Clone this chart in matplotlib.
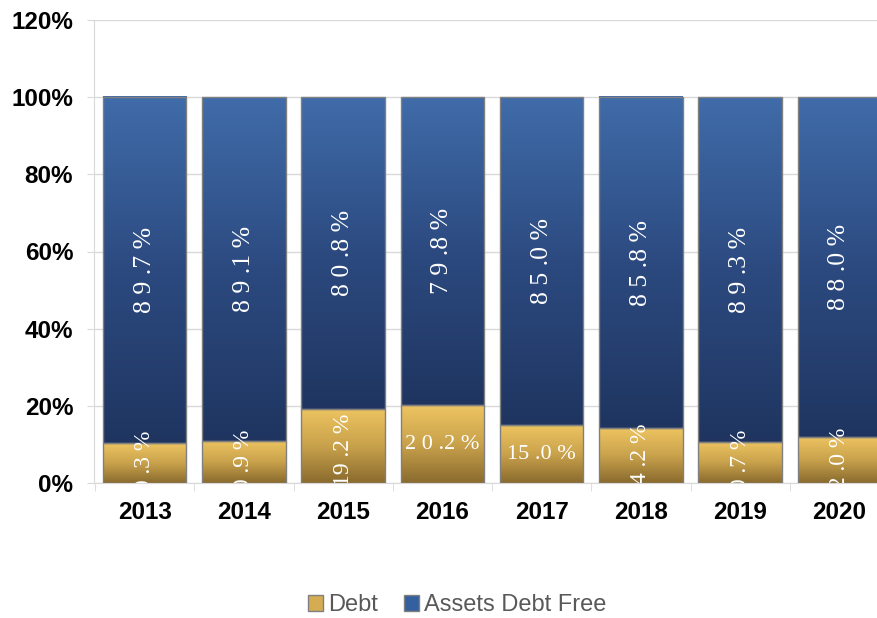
import numpy as np
import matplotlib.pyplot as plt
from matplotlib.colors import LinearSegmentedColormap

years = ['2013', '2014', '2015', '2016', '2017', '2018', '2019', '2020']
debt = [10.3, 10.9, 19.2, 20.2, 15.0, 14.2, 10.7, 12.0]
free = [89.7, 89.1, 80.8, 79.8, 85.0, 85.8, 89.3, 88.0]
# which debt labels are drawn flat (the rest are rotated)
debt_flat = [False, False, False, True, True, False, False, False]

gold = LinearSegmentedColormap.from_list('gold', ['#8a6b2e', '#c9a24c', '#eec461'])
blue = LinearSegmentedColormap.from_list('blue', ['#1f3560', '#2c4a80', '#406ca9'])

fig = plt.figure(figsize=(8.78, 6.18), dpi=100)
ax = fig.add_axes([94 / 878, 1 - 483 / 618, 800 / 878, 463 / 618])

w = 0.84
grad = np.linspace(0, 1, 256).reshape(-1, 1)
serif = 'Liberation Serif'


def grad_bar(x, bottom, height, cmap):
    ax.imshow(grad, cmap=cmap, aspect='auto', origin='lower',
              extent=(x - w / 2, x + w / 2, bottom, bottom + height), zorder=2)
    ax.bar(x, height, w, bottom=bottom, facecolor='none',
           edgecolor='#808080', linewidth=1, zorder=3)


def spaced(v):
    # Excel-ish loose letter spacing: "8 9 .7 %"
    s = f'{v:.1f}%'
    return ' '.join(s).replace(' .', '.').replace('. ', ' .')


for i, (d, f) in enumerate(zip(debt, free)):
    grad_bar(i, 0, d, gold)
    grad_bar(i, d, f, blue)
    ax.text(i, d + f / 2, spaced(f), rotation=90, ha='center', va='center',
            color='white', fontsize=18.5, family=serif, zorder=4)
    whole, dec = f'{d:.1f}'.split('.')
    if debt_flat[i]:
        lab = spaced(d) if d >= 20 else f'{whole} .{dec} %'
        ax.text(i, d / 2, lab, ha='center', va='center',
                color='white', fontsize=16, family=serif, zorder=4)
    else:
        t = ax.text(i, d / 2 - 1, f'{whole} .{dec} %', rotation=90,
                    ha='center', va='center', color='white', fontsize=17,
                    family=serif, zorder=4)
        t.set_clip_on(True)

ax.set_xlim(-0.51, 7.55)
ax.set_ylim(0, 120)
ax.set_yticks(range(0, 121, 20))
ax.set_yticklabels([f'{v}%' for v in range(0, 121, 20)])
ax.set_xticks(range(len(years)))
ax.set_xticklabels(years)
ax.set_xticks(np.arange(-0.5, 8, 1), minor=True)
ax.tick_params(axis='x', which='major', length=0, pad=13)
ax.tick_params(axis='x', which='minor', length=6, color='#d9d9d9')
ax.tick_params(axis='y', length=5, color='#d9d9d9', pad=10)
for lab in ax.get_xticklabels() + ax.get_yticklabels():
    lab.set_fontsize(17.5)
    lab.set_fontweight('bold')
    lab.set_family('Liberation Sans')

ax.grid(axis='y', color='#d9d9d9', linewidth=1, zorder=0)
ax.set_axisbelow(True)
for s in ['top', 'right']:
    ax.spines[s].set_visible(False)
ax.spines['left'].set_color('#d9d9d9')
ax.spines['bottom'].set_color('#d9d9d9')

h1 = plt.Rectangle((0, 0), 1, 1, facecolor='#d4ac52', edgecolor='#808080')
h2 = plt.Rectangle((0, 0), 1, 1, facecolor='#3560a0', edgecolor='#808080')
fig.legend([h1, h2], ['Debt', 'Assets Debt Free'], loc='center',
           bbox_to_anchor=(457 / 878, 1 - 605 / 618), ncol=2, frameon=False,
           prop={'family': 'Liberation Sans', 'size': 17}, labelcolor='#595959',
           handlelength=0.65, handleheight=0.65, handletextpad=0.2,
           columnspacing=1.1)

fig.savefig('out.png', dpi=100)
